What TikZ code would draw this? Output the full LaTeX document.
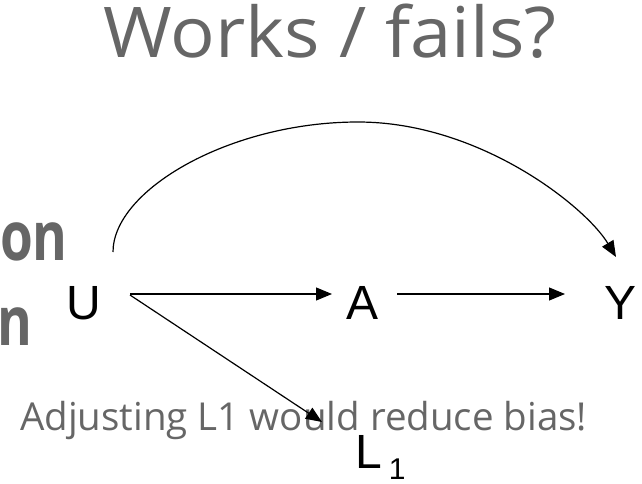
\documentclass[tikz,border=0pt]{standalone}
\usepackage{fontspec}
\setmainfont{Liberation Sans}
\newfontfamily\comic{Open Sans}
\usetikzlibrary{arrows.meta}
\definecolor{txtgray}{HTML}{666666}
\begin{document}
\begin{tikzpicture}[x=1pt,y=-1pt,
  var/.style={inner sep=0pt,anchor=base,font=\fontsize{48}{52}\selectfont},
  titlestyle/.style={inner sep=0pt,anchor=base,text=txtgray,font=\comic\fontsize{70}{80}\selectfont},
  sidestyle/.style={inner sep=0pt,anchor=base east,text=txtgray,font=\comic\bfseries\fontsize{68}{80}\selectfont},
  notestyle/.style={inner sep=0pt,anchor=base west,text=txtgray,font=\comic\fontsize{38.5}{40}\selectfont},
  arr/.style={line width=1.2pt,-{Triangle[length=16pt,width=13pt]}}]
\useasboundingbox (0,0) rectangle (642,484);
\node[titlestyle] (title) at (330,58) {\scalebox{1.06}[1]{Works / fails?}};
\node[sidestyle] (on) at (68,260) {\scalebox{0.78}[1]{on}};
\node[sidestyle] (n) at (33,345) {\scalebox{0.78}[1]{n}};
\node[var] (U) at (84,319) {U};
\node[var] (A) at (363,319) {A};
\node[var] (Y) at (620,319) {Y};
\node[var,anchor=base west] (L) at (355,468) {L\hspace{7pt}\raisebox{-11pt}{\fontsize{30}{32}\selectfont 1}};
\node[notestyle] (note) at (20,430) {Adjusting L1 would reduce bias!};
\draw[arr] ([shift={(46,-25)}]U.base) -- ([shift={(-31,-25)}]A.base);
\draw[arr] ([shift={(34,-25)}]A.base) -- ([shift={(-55,-25)}]Y.base);
\draw[arr] ([shift={(46,-24)}]U.base) -- ([shift={(-33,-46)}]L.base west);
\draw[arr] ([shift={(29,-67)}]U.base) .. controls (113,190) and (230,122) .. (358,122)
  .. controls (480,122) and (586,207) .. ([shift={(-4,-62)}]Y.base);
\end{tikzpicture}
\end{document}
